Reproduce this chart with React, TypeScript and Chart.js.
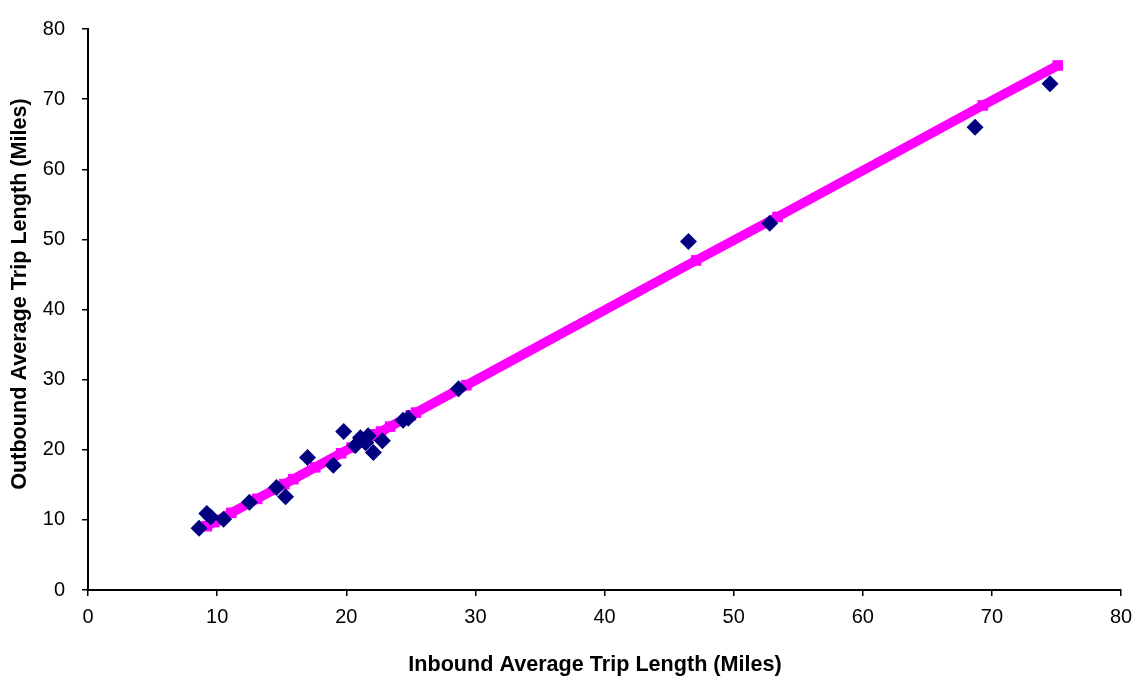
import React, { useEffect, useRef } from "react";
import { Chart, registerables } from "chart.js";

Chart.register(...registerables);

const inboundX = [8.6, 9.2, 9.5, 10.5, 12.5, 14.6, 15.3, 17.0, 19.0, 19.8, 20.7, 21.1, 21.5, 21.7, 22.1, 22.8, 24.4, 24.8, 28.7, 46.5, 52.8, 68.7, 74.5];
const outboundY = [8.8, 10.9, 10.4, 10.1, 12.5, 14.6, 13.3, 18.9, 17.8, 22.6, 20.6, 21.7, 21.0, 22.0, 19.6, 21.3, 24.2, 24.5, 28.7, 49.7, 52.3, 66.0, 72.2];

const trendX = [9.2, 9.8, 10.1, 11.1, 13.1, 15.2, 15.9, 17.6, 19.6, 20.4, 21.3, 21.7, 22.1, 22.3, 22.7, 23.4, 25.0, 25.4, 29.3, 47.1, 53.4, 69.3, 75.1];
const trendY = [9.1, 9.7, 10.0, 11.0, 13.0, 15.1, 15.8, 17.5, 19.5, 20.3, 21.2, 21.6, 22.0, 22.2, 22.6, 23.3, 24.9, 25.3, 29.2, 47.0, 53.2, 69.1, 74.8];

const xTitle = "Inbound Average Trip Length (Miles)";
const yTitle = "Outbound Average Trip Length (Miles)";

const FONT = "'Liberation Sans', Arial, sans-serif";

const axisTitlePlugin = {
  id: "axisTitlePlugin",
  afterDraw(chart: any) {
    const ctx = chart.ctx;
    ctx.save();
    ctx.font = `bold 21.6px ${FONT}`;
    ctx.fillStyle = "#000";
    ctx.textAlign = "center";
    ctx.textBaseline = "middle";
    ctx.fillText(xTitle, 595, 665);
    ctx.translate(20, 294);
    ctx.rotate(-Math.PI / 2);
    ctx.fillText(yTitle, 0, 0);
    ctx.restore();
  },
};

export default function App() {
  const ref = useRef<HTMLCanvasElement | null>(null);
  useEffect(() => {
    if (!ref.current) return;
    const tickFont = { family: FONT, size: 20 };
    const chart = new Chart(ref.current, {
      type: "scatter",
      data: {
        datasets: [
          {
            label: "Observed",
            data: inboundX.map((x, i) => ({ x, y: outboundY[i] })),
            backgroundColor: "#000080",
            borderColor: "#000080",
            borderWidth: 0,
            pointStyle: "rectRot",
            pointRadius: 8.5,
            showLine: false,
            order: 0,
          },
          {
            label: "Fit",
            data: trendX.map((x, i) => ({ x, y: trendY[i] })),
            backgroundColor: "#FF00FF",
            borderColor: "#FF00FF",
            borderWidth: 9.5,
            pointStyle: "rect",
            pointRadius: 7.5,
            pointBorderWidth: 0,
            showLine: true,
            order: 1,
          },
        ],
      },
      options: {
        animation: false,
        responsive: false,
        layout: { padding: { top: 19, right: 26, left: 0, bottom: 0 } },
        plugins: { legend: { display: false }, tooltip: { enabled: false } },
        scales: {
          x: {
            type: "linear",
            min: 0,
            max: 80,
            afterFit: (s: any) => { s.height = 91; },
            ticks: { stepSize: 10, color: "#000", font: tickFont, padding: 9 },
            grid: { drawOnChartArea: false, drawTicks: true, tickLength: 6, color: "#000", lineWidth: 1.5 },
            border: { color: "#000", width: 2 },
            title: { display: false, text: xTitle },
          },
          y: {
            type: "linear",
            min: 0,
            max: 80,
            afterFit: (s: any) => { s.width = 88; },
            ticks: { stepSize: 10, color: "#000", font: tickFont, padding: 17 },
            grid: { drawOnChartArea: false, drawTicks: true, tickLength: 6, color: "#000", lineWidth: 1.5 },
            border: { color: "#000", width: 2 },
            title: { display: false, text: yTitle },
          },
        },
      },
      plugins: [axisTitlePlugin],
    });
    return () => chart.destroy();
  }, []);
  return (
    <div style={{ position: "absolute", left: 0, top: 0, width: 1147, height: 681, background: "#fff" }}>
      <canvas ref={ref} width={1147} height={681} style={{ display: "block" }} />
    </div>
  );
}
